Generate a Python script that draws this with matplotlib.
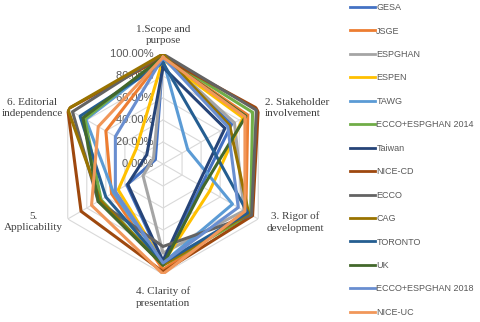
import numpy as np
import matplotlib.pyplot as plt
from matplotlib.lines import Line2D

categories = ["1.Scope and\npurpose", "2. Stakeholder\ninvolvement", "3. Rigor of\ndevelopment",
              "4. Clarity of\npresentation", "5.\nApplicability", "6. Editorial\nindependence"]

series_names = ["GESA", "JSGE", "ESPGHAN", "ESPEN", "TAWG", "ECCO+ESPGHAN 2014", "Taiwan",
                "NICE-CD", "ECCO", "CAG", "TORONTO", "UK", "ECCO+ESPGHAN 2018", "NICE-UC"]

# domain scores (%), order follows categories
gesa = [97, 72, 40, 90, 38, 8]
jsge = [97, 89, 87, 96, 54, 60]
espghan = [97, 75, 85, 81, 21, 10]
espen = [95, 84, 49, 90, 47, 28]
tawg = [95, 26, 73, 90, 52, 81]
ecco_espghan_2014 = [98, 94, 92, 92, 65, 82]
taiwan = [88, 65, 37, 88, 37, 17]
nice_cd = [97, 100, 94, 98, 86, 100]
ecco = [100, 98, 93, 75, 68, 95]
cag = [100, 70, 90, 92, 66, 100]
toronto = [92, 46, 89, 90, 60, 87]
uk = [97, 87, 42, 92, 68, 84]
ecco_espghan_2018 = [97, 68, 79, 90, 50, 50]
nice_uc = [97, 86, 86, 100, 75, 68]

values = [gesa, jsge, espghan, espen, tawg, ecco_espghan_2014, taiwan,
          nice_cd, ecco, cag, toronto, uk, ecco_espghan_2018, nice_uc]

colors = ["#4472C4", "#ED7D31", "#A5A5A5", "#FFC000", "#5B9BD5", "#70AD47", "#264478",
          "#9E480E", "#636363", "#997300", "#255E91", "#43682B", "#698ED0", "#F1975A"]

ticks = [0, 20, 40, 60, 80, 100]
tick_labels = ["0.00%", "20.00%", "40.00%", "60.00%", "80.00%", "100.00%"]

W, H = 480, 322
fig = plt.figure(figsize=(W / 100, H / 100), dpi=100)
cx, cy, R = 163, 164, 110
ax = fig.add_axes([(cx - R) / W, (H - cy - R) / H, 2 * R / W, 2 * R / H], polar=True)
ax.set_theta_offset(np.pi / 2)
ax.set_theta_direction(-1)
ax.set_ylim(0, 100)
ax.set_frame_on(False)
ax.grid(False)
ax.set_xticks([])
ax.set_yticks([])

n = len(categories)
angles = np.linspace(0, 2 * np.pi, n, endpoint=False)
closed = np.append(angles, angles[0])

# hexagon grid and spokes
for t in ticks[1:]:
    ax.plot(closed, [t] * (n + 1), color="#D9D9D9", lw=0.8, zorder=1)
for a in angles:
    ax.plot([a, a], [0, 100], color="#D9D9D9", lw=0.8, zorder=1)

for name, vals, c in zip(series_names, values, colors):
    ax.plot(closed, vals + vals[:1], color=c, lw=2.2, label=name, zorder=3)

for t, lab in zip(ticks, tick_labels):
    ax.text(0, t, lab + "   ", ha="right", va="center", fontsize=8, color="#595959",
            family="Liberation Sans", zorder=2)

label_pos = [(163, 35, "center"), (265, 108, "left"), (295, 222, "center"),
             (163, 297, "center"), (33, 222, "center"), (32, 108, "center")]
for lab, (x, y, ha) in zip(categories, label_pos):
    fig.text(x / W, 1 - y / H, lab, ha=ha, va="center", fontsize=8, color="#404040",
             family="Liberation Serif", linespacing=1.35)

handles = [Line2D([], [], color=c, lw=2) for c in colors]
fig.legend(handles, series_names, loc="upper left", bbox_to_anchor=(347 / W, 1.0),
           frameon=False, labelspacing=1.6, handlelength=2.8,
           handletextpad=0.1, borderaxespad=0, borderpad=0.35,
           labelcolor="#595959", prop={"family": "Liberation Sans", "size": 6.5})

fig.savefig("out.png", dpi=100)
